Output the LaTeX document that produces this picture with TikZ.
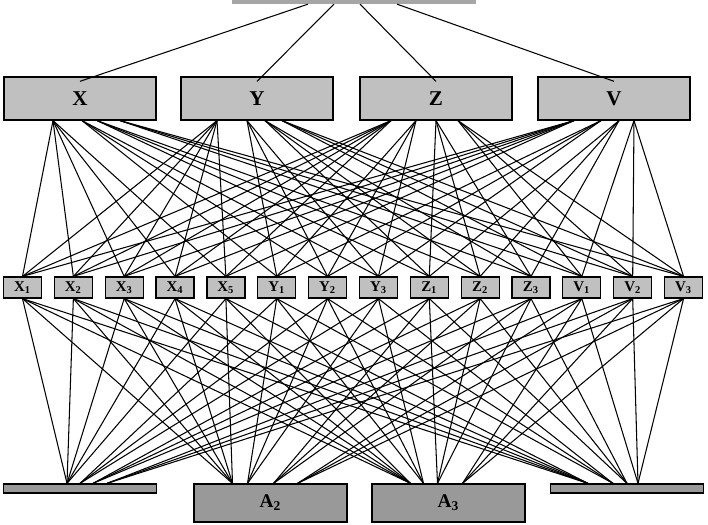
\documentclass[tikz,border=0pt]{standalone}
\usepackage{fontspec}
\setmainfont{Liberation Serif}
\usetikzlibrary{calc}
\definecolor{BoxGray}{HTML}{C0C0C0}
\definecolor{BaseGray}{HTML}{999999}
\definecolor{RootGray}{HTML}{A6A6A6}
\tikzset{
  rootbar/.style={fill=RootGray, draw=RootGray, minimum width=4.86cm, minimum height=0.08cm, inner sep=0pt},
  bigbox/.style={draw=black, line width=0.7pt, fill=BoxGray, minimum width=3.04cm, minimum height=0.86cm, inner sep=0pt, font=\fontsize{12}{14}\selectfont\bfseries},
  smallbox/.style={draw=black, line width=0.7pt, fill=BoxGray, minimum width=0.76cm, minimum height=0.42cm, inner sep=0pt, font=\fontsize{8.5}{10}\selectfont\bfseries},
  basebox/.style={draw=black, line width=0.7pt, fill=BaseGray, minimum width=3.06cm, inner sep=0pt, font=\fontsize{11}{13}\selectfont\bfseries},
  link/.style={line width=0.6pt, draw=black}
}

\begin{document}
\begin{tikzpicture}[x=0.02cm, y=-0.02cm]
\useasboundingbox (0,0) rectangle (708,525);
% top level
\node[rootbar] (root) at (353.5,1.8) {};
\node[bigbox] (X) at (80,98.5) {X};
\node[bigbox] (Y) at (257,98.5) {Y};
\node[bigbox] (Z) at (436,98.5) {Z};
\node[bigbox] (V) at (614,98.5) {V};
% middle row
\foreach \m/\a/\n [count=\i from 0] in {x1/X/1,x2/X/2,x3/X/3,x4/X/4,x5/X/5,y1/Y/1,y2/Y/2,y3/Y/3,z1/Z/1,z2/Z/2,z3/Z/3,v1/V/1,v2/V/2,v3/V/3}
  \node[smallbox] (\m) at (22.5+50.85*\i,287.5) {\a\textsubscript{\n}};
% bottom row
\node[basebox, minimum height=0.18cm] (a1) at (80,488.5) {};
\node[basebox, minimum height=0.76cm] (a2) at (270.5,503) {A\textsubscript{2}};
\node[basebox, minimum height=0.76cm] (a3) at (448.5,503) {A\textsubscript{3}};
\node[basebox, minimum height=0.18cm] (a4) at (627,488.5) {};
% root links
\foreach \b/\dx in {X/-0.91,Y/-0.39,Z/0.13,V/0.87}
  \draw[link] ([xshift=\dx cm]root.south) -- ([yshift=-2.8pt]\b.north);
% upper links
\foreach \b/\oa/\ob/\oc/\od in {X/-0.54/0.04/0.34/0.8, Y/-0.8/-0.2/0.16/0.5, Z/-0.9/-0.4/0/0.44, V/-0.8/-0.26/0.1/0.4}
  \foreach \m/\g in {x1/0,x2/0,x3/0,x4/0,x5/0,y1/1,y2/1,y3/1,z1/2,z2/2,z3/2,v1/3,v2/3,v3/3} {
    \pgfmathsetmacro\dx{{\oa,\ob,\oc,\od}[\g]}
    \draw[link] ([xshift=\dx cm]\b.south) -- (\m.north);
  }
% lower links
\foreach \b/\oa/\ob/\oc/\od in {a1/-0.26/0/0.26/0.54, a2/-0.76/-0.46/0.06/0.54, a3/-0.76/-0.5/-0.22/0.28, a4/-0.78/-0.28/0/0.22}
  \foreach \m/\g in {x1/0,x2/0,x3/0,x4/0,x5/0,y1/1,y2/1,y3/1,z1/2,z2/2,z3/2,v1/3,v2/3,v3/3} {
    \pgfmathsetmacro\dx{{\oa,\ob,\oc,\od}[\g]}
    \draw[link] (\m.south) -- ([xshift=\dx cm]\b.north);
  }
\end{tikzpicture}
\end{document}
